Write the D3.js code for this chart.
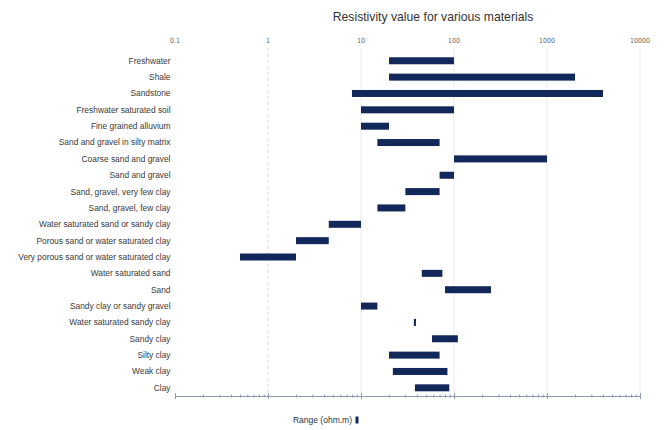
<!DOCTYPE html>
<html>
<head>
<meta charset="utf-8">
<script src="https://cdn.jsdelivr.net/npm/d3@7"></script>
<style>
  html, body { margin: 0; padding: 0; background: #fff; }
  svg { display: block; font-family: "Liberation Sans", Arial, sans-serif; }
</style>
</head>
<body>
<svg id="chart" width="666" height="430"></svg>
<script>
// Resistivity ranges (ohm.m), one row per material, top to bottom
const materials = [
  "Freshwater", "Shale", "Sandstone", "Freshwater saturated soil",
  "Fine grained alluvium", "Sand and gravel in silty matrix",
  "Coarse sand and gravel", "Sand and gravel", "Sand, gravel, very few clay",
  "Sand, gravel, few clay", "Water saturated sand or sandy clay",
  "Porous sand or water saturated clay", "Very porous sand or water saturated clay",
  "Water saturated sand", "Sand", "Sandy clay or sandy gravel",
  "Water saturated sandy clay", "Sandy clay", "Silty clay", "Weak clay", "Clay"
];
const rangeMin = [20, 20, 8, 10, 10, 15, 100, 70, 30, 15, 4.5, 2, 0.5, 45, 80, 10, 37, 58, 20, 22, 38];
const rangeMax = [100, 2000, 4000, 100, 20, 70, 1000, 100, 70, 30, 10, 4.5, 2, 75, 250, 15, 39, 110, 70, 85, 89];
const decadeTicks = [0.1, 1, 10, 100, 1000, 10000];
const tickLabels = ["0.1", "1", "10", "100", "1000", "10000"];

const svg = d3.select("#chart");
const navy = "#13285a";

const x = d3.scaleLog().domain([0.1, 10000]).range([175, 640]);
const y = d3.scaleBand().domain(materials).range([52.6, 396]);
const barH = 7;

// Title
svg.append("text")
  .attr("x", 433).attr("y", 21)
  .attr("text-anchor", "middle")
  .attr("font-size", 12.2)
  .attr("fill", "#333")
  .text("Resistivity value for various materials");

// Decade labels along the top
svg.append("g").selectAll("text")
  .data(decadeTicks)
  .join("text")
  .attr("x", d => x(d))
  .attr("y", 43)
  .attr("text-anchor", "middle")
  .attr("font-size", 7)
  .attr("font-family", "'Liberation Sans Narrow', 'DejaVu Sans Condensed', sans-serif")
  .attr("fill", "#666")
  .text((d, i) => tickLabels[i]);

// Vertical gridlines at each decade
svg.append("g").selectAll("line")
  .data(decadeTicks.slice(1))
  .join("line")
  .attr("x1", d => x(d)).attr("x2", d => x(d))
  .attr("y1", 48).attr("y2", 396)
  .attr("stroke", d => d === 1 ? "#d4d8df" : "#e9ecf1")
  .attr("stroke-width", 1)
  .attr("stroke-dasharray", d => d === 1 ? "3,3" : null);

// Category labels
svg.append("g").selectAll("text")
  .data(materials)
  .join("text")
  .attr("x", 170.5)
  .attr("y", d => y(d) + y.bandwidth() / 2)
  .attr("dy", "0.35em")
  .attr("text-anchor", "end")
  .attr("font-size", 8.4)
  .attr("fill", "#3a3a3a")
  .text(d => d);

// Range bars
svg.append("g").selectAll("rect")
  .data(materials)
  .join("rect")
  .attr("x", (d, i) => x(rangeMin[i]))
  .attr("width", (d, i) => x(rangeMax[i]) - x(rangeMin[i]))
  .attr("y", d => y(d) + y.bandwidth() / 2 - barH / 2)
  .attr("height", barH)
  .attr("fill", navy);

// Bottom log axis with minor ticks
const axis = d3.axisBottom(x)
  .tickValues(d3.range(-1, 4).flatMap(e => d3.range(1, 10).map(m => m * Math.pow(10, e))).concat([10000]))
  .tickFormat("")
  .tickSizeOuter(0);
const gAxis = svg.append("g").attr("transform", "translate(0,396)").call(axis);
gAxis.select(".domain").attr("stroke", "#8d9cb0");
gAxis.selectAll(".tick line")
  .attr("stroke", "#8d9cb0")
  .attr("y1", d => decadeTicks.includes(d) ? -3 : -1.5)
  .attr("y2", d => decadeTicks.includes(d) ? 3 : 1.5);

// Legend
svg.append("text")
  .attr("x", 352).attr("y", 423)
  .attr("text-anchor", "end")
  .attr("font-size", 8.5)
  .attr("fill", "#333")
  .text("Range (ohm.m)");
svg.append("rect")
  .attr("x", 355.5).attr("y", 416.5)
  .attr("width", 3).attr("height", 7)
  .attr("fill", navy);
</script>
</body>
</html>
